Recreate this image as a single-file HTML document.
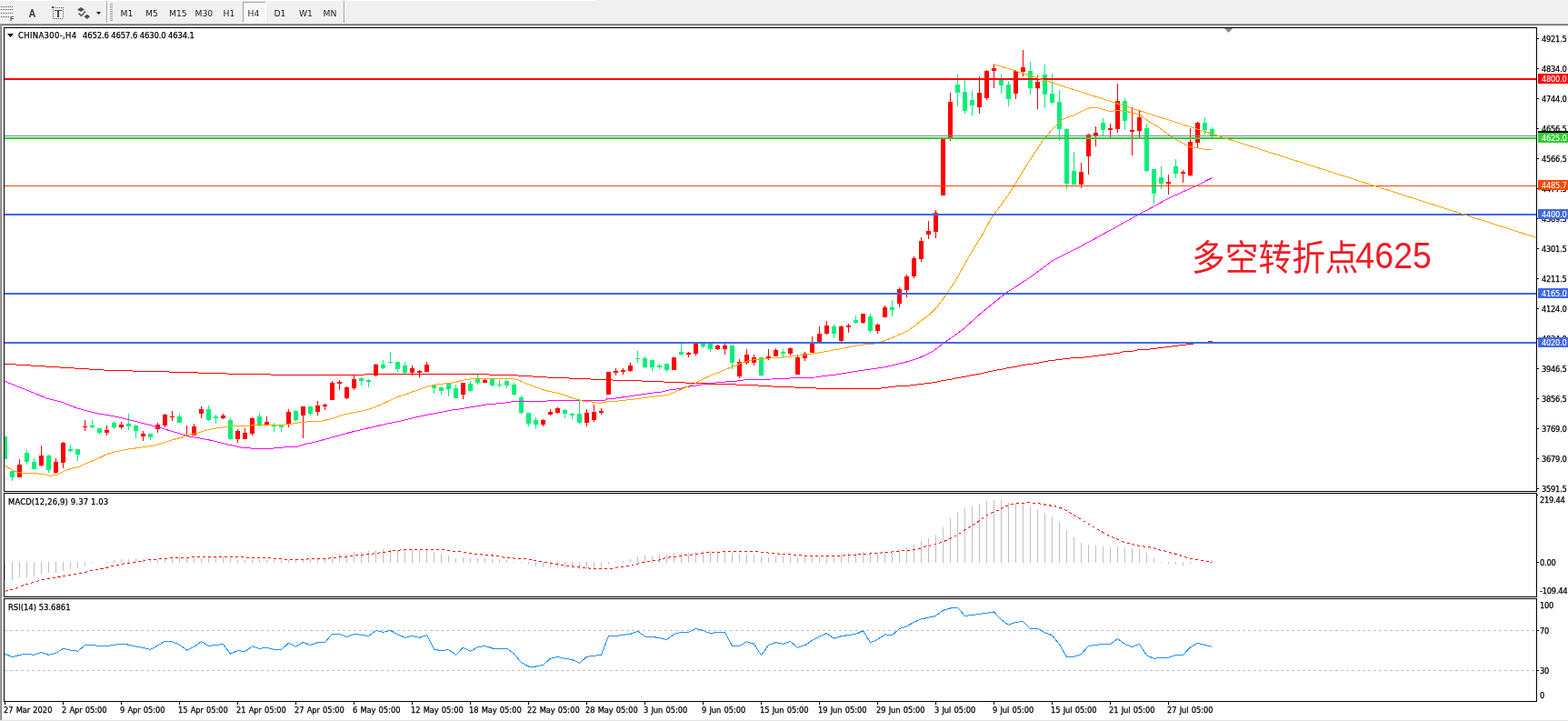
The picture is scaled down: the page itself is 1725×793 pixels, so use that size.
<!DOCTYPE html><html><head><meta charset="utf-8"><title>CHINA300 H4</title><style>
html,body{margin:0;padding:0;background:#f0f0f0;}
body{width:1725px;height:793px;overflow:hidden;position:relative;}
svg{position:absolute;left:0;top:0;display:block;}
.t{font-family:"DejaVu Sans Condensed","DejaVu Sans",sans-serif;font-size:9.2px;letter-spacing:-0.22px;fill:#000;stroke:#000;stroke-width:0.25px;}
.tt{font-family:"DejaVu Sans Condensed","DejaVu Sans",sans-serif;font-size:9.2px;word-spacing:0.5px;fill:#000;stroke:#000;stroke-width:0.25px;}
.tb{font-family:"DejaVu Sans Condensed","DejaVu Sans",sans-serif;font-size:9.4px;fill:#000;stroke:#000;stroke-width:0.25px;}
.tw{font-family:"DejaVu Sans Condensed","DejaVu Sans",sans-serif;font-size:9.2px;letter-spacing:-0.22px;fill:#fff;stroke:#fff;stroke-width:0.08px;}
.tf{font-family:"DejaVu Sans",sans-serif;font-size:9.2px;fill:#1a1a1a;}
.cn{font-family:"Liberation Sans","Noto Sans CJK SC",sans-serif;font-size:36px;fill:#ee1c25;}
.cn2{font-family:"Liberation Sans",sans-serif;font-size:39px;fill:#ee1c25;}
</style></head><body>
<svg width="1725" height="793" viewBox="0 0 1725 793">
<g shape-rendering="crispEdges">
<rect x="0" y="0" width="1725" height="26" fill="#f0f0f0"/>
<rect x="0" y="0" width="656" height="1" fill="#ffffff"/>
<rect x="0" y="26" width="1725" height="1" fill="#a0a0a0"/>
<rect x="0" y="27" width="1725" height="1" fill="#696969"/>
<rect x="117" y="1" width="1" height="24" fill="#a0a0a0"/>
<rect x="118" y="1" width="1" height="24" fill="#ffffff"/>
<rect x="378" y="1" width="1" height="24" fill="#a0a0a0"/>
<rect x="379" y="1" width="1" height="24" fill="#ffffff"/>
<rect x="121" y="4" width="3" height="1" fill="#a0a0a0"/>
<rect x="121" y="6" width="3" height="1" fill="#a0a0a0"/>
<rect x="121" y="8" width="3" height="1" fill="#a0a0a0"/>
<rect x="121" y="10" width="3" height="1" fill="#a0a0a0"/>
<rect x="121" y="12" width="3" height="1" fill="#a0a0a0"/>
<rect x="121" y="14" width="3" height="1" fill="#a0a0a0"/>
<rect x="121" y="16" width="3" height="1" fill="#a0a0a0"/>
<rect x="121" y="18" width="3" height="1" fill="#a0a0a0"/>
<rect x="121" y="20" width="3" height="1" fill="#a0a0a0"/>
<rect x="121" y="22" width="3" height="1" fill="#a0a0a0"/>
<rect x="267" y="2" width="26" height="23" fill="#f8f8f8" stroke="none"/>
<rect x="267" y="2" width="25" height="1" fill="#a0a0a0"/>
<rect x="267" y="2" width="1" height="22" fill="#a0a0a0"/>
<rect x="292" y="2" width="1" height="23" fill="#ffffff"/>
<rect x="267" y="24" width="26" height="1" fill="#ffffff"/>
<rect x="1" y="7" width="1" height="1" fill="#505050"/>
<rect x="3" y="7" width="1" height="1" fill="#505050"/>
<rect x="5" y="7" width="1" height="1" fill="#505050"/>
<rect x="7" y="7" width="1" height="1" fill="#505050"/>
<rect x="9" y="7" width="1" height="1" fill="#505050"/>
<rect x="11" y="7" width="1" height="1" fill="#505050"/>
<rect x="13" y="7" width="1" height="1" fill="#505050"/>
<rect x="1" y="10" width="1" height="1" fill="#505050"/>
<rect x="3" y="10" width="1" height="1" fill="#505050"/>
<rect x="5" y="10" width="1" height="1" fill="#505050"/>
<rect x="7" y="10" width="1" height="1" fill="#505050"/>
<rect x="9" y="10" width="1" height="1" fill="#505050"/>
<rect x="11" y="10" width="1" height="1" fill="#505050"/>
<rect x="13" y="10" width="1" height="1" fill="#505050"/>
<rect x="1" y="14" width="1" height="1" fill="#505050"/>
<rect x="3" y="14" width="1" height="1" fill="#505050"/>
<rect x="5" y="14" width="1" height="1" fill="#505050"/>
<rect x="7" y="14" width="1" height="1" fill="#505050"/>
<rect x="9" y="14" width="1" height="1" fill="#505050"/>
<rect x="11" y="14" width="1" height="1" fill="#505050"/>
<rect x="13" y="14" width="1" height="1" fill="#505050"/>
<rect x="1" y="18" width="1" height="1" fill="#505050"/>
<rect x="3" y="18" width="1" height="1" fill="#505050"/>
<rect x="5" y="18" width="1" height="1" fill="#505050"/>
<rect x="7" y="18" width="1" height="1" fill="#505050"/>
<rect x="9" y="18" width="1" height="1" fill="#505050"/>
<rect x="61" y="8" width="1" height="1" fill="#505050"/>
<rect x="63" y="8" width="1" height="1" fill="#505050"/>
<rect x="65" y="8" width="1" height="1" fill="#505050"/>
<rect x="67" y="8" width="1" height="1" fill="#505050"/>
<rect x="69" y="8" width="1" height="1" fill="#505050"/>
<rect x="58" y="20" width="1" height="1" fill="#505050"/>
<rect x="60" y="20" width="1" height="1" fill="#505050"/>
<rect x="62" y="20" width="1" height="1" fill="#505050"/>
<rect x="64" y="20" width="1" height="1" fill="#505050"/>
<rect x="66" y="20" width="1" height="1" fill="#505050"/>
<rect x="68" y="20" width="1" height="1" fill="#505050"/>
<rect x="58" y="10" width="1" height="1" fill="#505050"/>
<rect x="69" y="10" width="1" height="1" fill="#505050"/>
<rect x="58" y="12" width="1" height="1" fill="#505050"/>
<rect x="69" y="12" width="1" height="1" fill="#505050"/>
<rect x="58" y="14" width="1" height="1" fill="#505050"/>
<rect x="69" y="14" width="1" height="1" fill="#505050"/>
<rect x="58" y="16" width="1" height="1" fill="#505050"/>
<rect x="69" y="16" width="1" height="1" fill="#505050"/>
<rect x="58" y="18" width="1" height="1" fill="#505050"/>
<rect x="69" y="18" width="1" height="1" fill="#505050"/>
<rect x="57" y="7" width="2" height="2" fill="#505050"/><rect x="59" y="8" width="1" height="1" fill="#808080"/>
<rect x="60" y="11" width="8" height="1.3" fill="#505050"/>
<rect x="63.1" y="11" width="1.9" height="8" fill="#505050"/>
</g>
<text x="11" y="23" style="font-family:Liberation Sans;font-weight:bold;font-size:7px;fill:#505050">F</text>
<path d="M32.6 18.9 L35.5 10.2 L38.4 18.9 M33.7 16.3 L37.3 16.3" stroke="#4a4a4a" stroke-width="1.6" stroke-linejoin="bevel" fill="none"/>
<path d="M85 10.5 L89 8 L93 10.5 L89 13 Z" fill="#505050"/>
<path d="M92.5 18.3 L95.8 15.7 L99 18.3 L95.8 21 Z" fill="#505050"/>
<path d="M86.5 14.5 L89.5 17.5 L94 12.5" stroke="#505050" stroke-width="1.5" fill="none"/>
<path d="M106 13 L111 13 L108.5 16 Z" fill="#000"/>
<text class="tf" x="132.5" y="18">M1</text>
<text class="tf" x="160" y="18">M5</text>
<text class="tf" x="186" y="18">M15</text>
<text class="tf" x="214.5" y="18">M30</text>
<text class="tf" x="245.5" y="18">H1</text>
<text class="tf" x="272.5" y="18">H4</text>
<text class="tf" x="301.5" y="18">D1</text>
<text class="tf" x="329" y="18">W1</text>
<text class="tf" x="355.5" y="18">MN</text>
<g shape-rendering="crispEdges">
<rect x="0" y="28" width="1725" height="765" fill="#ffffff"/>
<rect x="0" y="26" width="1" height="767" fill="#a0a0a0"/>
<rect x="1" y="27" width="1" height="766" fill="#808080"/>
<rect x="0" y="792" width="1725" height="1" fill="#e3e3e3"/>
<rect x="4" y="30" width="1687" height="1" fill="#000"/>
<rect x="4" y="540" width="1687" height="1" fill="#000"/>
<rect x="4" y="30" width="1" height="511" fill="#000"/>
<rect x="1690" y="30" width="1" height="511" fill="#000"/>
<rect x="4" y="542" width="1687" height="1" fill="#000"/>
<rect x="4" y="656" width="1687" height="1" fill="#000"/>
<rect x="4" y="542" width="1" height="115" fill="#000"/>
<rect x="1690" y="542" width="1" height="115" fill="#000"/>
<rect x="4" y="658" width="1687" height="1" fill="#000"/>
<rect x="4" y="771" width="1687" height="1" fill="#000"/>
<rect x="4" y="658" width="1" height="114" fill="#000"/>
<rect x="1690" y="658" width="1" height="114" fill="#000"/>
</g>
<defs><clipPath id="cm"><rect x="5" y="31" width="1685" height="509"/></clipPath>
<clipPath id="cd"><rect x="5" y="543" width="1685" height="113"/></clipPath>
<clipPath id="cr"><rect x="5" y="659" width="1685" height="112"/></clipPath></defs>
<g clip-path="url(#cm)">
<g shape-rendering="crispEdges">
<rect x="5" y="480" width="1" height="25" fill="#00f078"/>
<rect x="3" y="480" width="5" height="25" fill="#00f078"/>
<rect x="13" y="518" width="1" height="11" fill="#00f078"/>
<rect x="11" y="518" width="5" height="7" fill="#00f078"/>
<rect x="21" y="505" width="1" height="20" fill="#ff0000"/>
<rect x="19" y="511" width="5" height="14" fill="#ff0000"/>
<rect x="29" y="495" width="1" height="16" fill="#00f078"/>
<rect x="27" y="498" width="5" height="10" fill="#00f078"/>
<rect x="37" y="504" width="1" height="12" fill="#00f078"/>
<rect x="35" y="508" width="5" height="8" fill="#00f078"/>
<rect x="45" y="490" width="1" height="23" fill="#ff0000"/>
<rect x="43" y="501" width="5" height="11" fill="#ff0000"/>
<rect x="53" y="500" width="1" height="20" fill="#00f078"/>
<rect x="51" y="501" width="5" height="16" fill="#00f078"/>
<rect x="61" y="504" width="1" height="17" fill="#ff0000"/>
<rect x="59" y="508" width="5" height="12" fill="#ff0000"/>
<rect x="69" y="486" width="1" height="29" fill="#ff0000"/>
<rect x="67" y="487" width="5" height="22" fill="#ff0000"/>
<rect x="77" y="489" width="1" height="9" fill="#00f078"/>
<rect x="75" y="494" width="5" height="2" fill="#00f078"/>
<rect x="85" y="494" width="1" height="13" fill="#00f078"/>
<rect x="83" y="494" width="5" height="6" fill="#00f078"/>
<rect x="93" y="462" width="1" height="12" fill="#ff0000"/>
<rect x="91" y="469" width="5" height="1" fill="#ff0000"/>
<rect x="101" y="462" width="1" height="9" fill="#00f078"/>
<rect x="99" y="468" width="5" height="2" fill="#00f078"/>
<rect x="109" y="471" width="1" height="7" fill="#00f078"/>
<rect x="107" y="471" width="5" height="5" fill="#00f078"/>
<rect x="117" y="468" width="1" height="11" fill="#ff0000"/>
<rect x="115" y="473" width="5" height="3" fill="#ff0000"/>
<rect x="125" y="463" width="1" height="9" fill="#00f078"/>
<rect x="123" y="465" width="5" height="5" fill="#00f078"/>
<rect x="133" y="464" width="1" height="8" fill="#ff0000"/>
<rect x="131" y="467" width="5" height="3" fill="#ff0000"/>
<rect x="141" y="455" width="1" height="18" fill="#00f078"/>
<rect x="139" y="466" width="5" height="3" fill="#00f078"/>
<rect x="149" y="467" width="1" height="15" fill="#00f078"/>
<rect x="147" y="468" width="5" height="6" fill="#00f078"/>
<rect x="157" y="474" width="1" height="11" fill="#ff0000"/>
<rect x="155" y="477" width="5" height="3" fill="#ff0000"/>
<rect x="165" y="477" width="1" height="7" fill="#00f078"/>
<rect x="163" y="477" width="5" height="4" fill="#00f078"/>
<rect x="173" y="465" width="1" height="11" fill="#ff0000"/>
<rect x="171" y="467" width="5" height="5" fill="#ff0000"/>
<rect x="181" y="455" width="1" height="15" fill="#ff0000"/>
<rect x="179" y="456" width="5" height="12" fill="#ff0000"/>
<rect x="189" y="452" width="1" height="11" fill="#ff0000"/>
<rect x="187" y="458" width="5" height="1" fill="#ff0000"/>
<rect x="197" y="455" width="1" height="10" fill="#00f078"/>
<rect x="195" y="458" width="5" height="7" fill="#00f078"/>
<rect x="205" y="468" width="1" height="12" fill="#ff0000"/>
<rect x="203" y="478" width="5" height="2" fill="#ff0000"/>
<rect x="213" y="466" width="1" height="13" fill="#ff0000"/>
<rect x="211" y="469" width="5" height="10" fill="#ff0000"/>
<rect x="221" y="447" width="1" height="13" fill="#ff0000"/>
<rect x="219" y="450" width="5" height="5" fill="#ff0000"/>
<rect x="229" y="446" width="1" height="17" fill="#00f078"/>
<rect x="227" y="450" width="5" height="12" fill="#00f078"/>
<rect x="237" y="456" width="1" height="10" fill="#00f078"/>
<rect x="235" y="458" width="5" height="2" fill="#00f078"/>
<rect x="245" y="455" width="1" height="6" fill="#ff0000"/>
<rect x="243" y="457" width="5" height="3" fill="#ff0000"/>
<rect x="253" y="460" width="1" height="24" fill="#00f078"/>
<rect x="251" y="462" width="5" height="21" fill="#00f078"/>
<rect x="261" y="472" width="1" height="15" fill="#ff0000"/>
<rect x="259" y="474" width="5" height="9" fill="#ff0000"/>
<rect x="269" y="471" width="1" height="12" fill="#ff0000"/>
<rect x="267" y="476" width="5" height="7" fill="#ff0000"/>
<rect x="277" y="459" width="1" height="20" fill="#ff0000"/>
<rect x="275" y="460" width="5" height="17" fill="#ff0000"/>
<rect x="285" y="454" width="1" height="15" fill="#00f078"/>
<rect x="283" y="458" width="5" height="9" fill="#00f078"/>
<rect x="293" y="458" width="1" height="9" fill="#ff0000"/>
<rect x="291" y="464" width="5" height="3" fill="#ff0000"/>
<rect x="301" y="465" width="1" height="10" fill="#00f078"/>
<rect x="299" y="468" width="5" height="1" fill="#00f078"/>
<rect x="309" y="468" width="1" height="7" fill="#00f078"/>
<rect x="307" y="468" width="5" height="2" fill="#00f078"/>
<rect x="317" y="450" width="1" height="20" fill="#ff0000"/>
<rect x="315" y="453" width="5" height="13" fill="#ff0000"/>
<rect x="325" y="451" width="1" height="13" fill="#00f078"/>
<rect x="323" y="452" width="5" height="10" fill="#00f078"/>
<rect x="333" y="447" width="1" height="35" fill="#ff0000"/>
<rect x="331" y="447" width="5" height="10" fill="#ff0000"/>
<rect x="341" y="447" width="1" height="10" fill="#00f078"/>
<rect x="339" y="447" width="5" height="8" fill="#00f078"/>
<rect x="349" y="441" width="1" height="16" fill="#ff0000"/>
<rect x="347" y="446" width="5" height="7" fill="#ff0000"/>
<rect x="357" y="444" width="1" height="7" fill="#ff0000"/>
<rect x="355" y="445" width="5" height="2" fill="#ff0000"/>
<rect x="365" y="419" width="1" height="21" fill="#ff0000"/>
<rect x="363" y="421" width="5" height="19" fill="#ff0000"/>
<rect x="373" y="418" width="1" height="11" fill="#ff0000"/>
<rect x="371" y="420" width="5" height="2" fill="#ff0000"/>
<rect x="381" y="425" width="1" height="14" fill="#ff0000"/>
<rect x="379" y="426" width="5" height="12" fill="#ff0000"/>
<rect x="389" y="413" width="1" height="16" fill="#ff0000"/>
<rect x="387" y="417" width="5" height="10" fill="#ff0000"/>
<rect x="397" y="415" width="1" height="9" fill="#00f078"/>
<rect x="395" y="416" width="5" height="3" fill="#00f078"/>
<rect x="405" y="417" width="1" height="9" fill="#00f078"/>
<rect x="403" y="418" width="5" height="2" fill="#00f078"/>
<rect x="413" y="400" width="1" height="14" fill="#ff0000"/>
<rect x="411" y="401" width="5" height="12" fill="#ff0000"/>
<rect x="421" y="396" width="1" height="10" fill="#00f078"/>
<rect x="419" y="401" width="5" height="4" fill="#00f078"/>
<rect x="429" y="387" width="1" height="13" fill="#00f078"/>
<rect x="427" y="398" width="5" height="1" fill="#00f078"/>
<rect x="437" y="398" width="1" height="11" fill="#00f078"/>
<rect x="435" y="398" width="5" height="8" fill="#00f078"/>
<rect x="445" y="398" width="1" height="13" fill="#00f078"/>
<rect x="443" y="402" width="5" height="8" fill="#00f078"/>
<rect x="453" y="402" width="1" height="11" fill="#ff0000"/>
<rect x="451" y="405" width="5" height="5" fill="#ff0000"/>
<rect x="461" y="407" width="1" height="8" fill="#ff0000"/>
<rect x="459" y="408" width="5" height="2" fill="#ff0000"/>
<rect x="469" y="398" width="1" height="11" fill="#ff0000"/>
<rect x="467" y="401" width="5" height="8" fill="#ff0000"/>
<rect x="477" y="423" width="1" height="10" fill="#00f078"/>
<rect x="475" y="423" width="5" height="4" fill="#00f078"/>
<rect x="485" y="426" width="1" height="8" fill="#00f078"/>
<rect x="483" y="426" width="5" height="4" fill="#00f078"/>
<rect x="493" y="421" width="1" height="15" fill="#00f078"/>
<rect x="491" y="422" width="5" height="6" fill="#00f078"/>
<rect x="501" y="423" width="1" height="15" fill="#00f078"/>
<rect x="499" y="427" width="5" height="11" fill="#00f078"/>
<rect x="509" y="421" width="1" height="18" fill="#ff0000"/>
<rect x="507" y="421" width="5" height="13" fill="#ff0000"/>
<rect x="517" y="419" width="1" height="12" fill="#00f078"/>
<rect x="515" y="422" width="5" height="8" fill="#00f078"/>
<rect x="525" y="412" width="1" height="11" fill="#00f078"/>
<rect x="523" y="417" width="5" height="4" fill="#00f078"/>
<rect x="533" y="417" width="1" height="4" fill="#ff0000"/>
<rect x="531" y="418" width="5" height="3" fill="#ff0000"/>
<rect x="541" y="417" width="1" height="8" fill="#00f078"/>
<rect x="539" y="417" width="5" height="7" fill="#00f078"/>
<rect x="549" y="418" width="1" height="8" fill="#00f078"/>
<rect x="547" y="423" width="5" height="1" fill="#00f078"/>
<rect x="557" y="418" width="1" height="9" fill="#00f078"/>
<rect x="555" y="419" width="5" height="5" fill="#00f078"/>
<rect x="565" y="421" width="1" height="14" fill="#00f078"/>
<rect x="563" y="423" width="5" height="11" fill="#00f078"/>
<rect x="573" y="435" width="1" height="21" fill="#00f078"/>
<rect x="571" y="437" width="5" height="17" fill="#00f078"/>
<rect x="581" y="454" width="1" height="15" fill="#00f078"/>
<rect x="579" y="454" width="5" height="12" fill="#00f078"/>
<rect x="589" y="459" width="1" height="13" fill="#00f078"/>
<rect x="587" y="462" width="5" height="5" fill="#00f078"/>
<rect x="597" y="461" width="1" height="8" fill="#ff0000"/>
<rect x="595" y="462" width="5" height="5" fill="#ff0000"/>
<rect x="605" y="450" width="1" height="7" fill="#ff0000"/>
<rect x="603" y="453" width="5" height="3" fill="#ff0000"/>
<rect x="613" y="448" width="1" height="7" fill="#ff0000"/>
<rect x="611" y="449" width="5" height="5" fill="#ff0000"/>
<rect x="621" y="450" width="1" height="10" fill="#00f078"/>
<rect x="619" y="451" width="5" height="4" fill="#00f078"/>
<rect x="629" y="454" width="1" height="7" fill="#00f078"/>
<rect x="627" y="455" width="5" height="2" fill="#00f078"/>
<rect x="637" y="439" width="1" height="27" fill="#00f078"/>
<rect x="635" y="455" width="5" height="10" fill="#00f078"/>
<rect x="645" y="450" width="1" height="19" fill="#ff0000"/>
<rect x="643" y="454" width="5" height="11" fill="#ff0000"/>
<rect x="653" y="445" width="1" height="19" fill="#ff0000"/>
<rect x="651" y="453" width="5" height="9" fill="#ff0000"/>
<rect x="661" y="449" width="1" height="7" fill="#ff0000"/>
<rect x="659" y="452" width="5" height="2" fill="#ff0000"/>
<rect x="669" y="409" width="1" height="25" fill="#ff0000"/>
<rect x="667" y="409" width="5" height="25" fill="#ff0000"/>
<rect x="677" y="405" width="1" height="8" fill="#ff0000"/>
<rect x="675" y="408" width="5" height="2" fill="#ff0000"/>
<rect x="685" y="405" width="1" height="7" fill="#ff0000"/>
<rect x="683" y="407" width="5" height="2" fill="#ff0000"/>
<rect x="693" y="399" width="1" height="10" fill="#ff0000"/>
<rect x="691" y="402" width="5" height="6" fill="#ff0000"/>
<rect x="701" y="386" width="1" height="13" fill="#00f078"/>
<rect x="699" y="394" width="5" height="1" fill="#00f078"/>
<rect x="709" y="392" width="1" height="13" fill="#00f078"/>
<rect x="707" y="394" width="5" height="10" fill="#00f078"/>
<rect x="717" y="396" width="1" height="12" fill="#00f078"/>
<rect x="715" y="396" width="5" height="8" fill="#00f078"/>
<rect x="725" y="400" width="1" height="6" fill="#00f078"/>
<rect x="723" y="402" width="5" height="2" fill="#00f078"/>
<rect x="733" y="400" width="1" height="9" fill="#00f078"/>
<rect x="731" y="400" width="5" height="7" fill="#00f078"/>
<rect x="741" y="393" width="1" height="14" fill="#ff0000"/>
<rect x="739" y="393" width="5" height="14" fill="#ff0000"/>
<rect x="749" y="377" width="1" height="14" fill="#00f078"/>
<rect x="747" y="387" width="5" height="3" fill="#00f078"/>
<rect x="757" y="387" width="1" height="6" fill="#ff0000"/>
<rect x="755" y="388" width="5" height="2" fill="#ff0000"/>
<rect x="765" y="376" width="1" height="15" fill="#ff0000"/>
<rect x="763" y="378" width="5" height="11" fill="#ff0000"/>
<rect x="773" y="376" width="1" height="7" fill="#00f078"/>
<rect x="771" y="378" width="5" height="3" fill="#00f078"/>
<rect x="781" y="377" width="1" height="10" fill="#00f078"/>
<rect x="779" y="378" width="5" height="6" fill="#00f078"/>
<rect x="789" y="379" width="1" height="6" fill="#ff0000"/>
<rect x="787" y="380" width="5" height="4" fill="#ff0000"/>
<rect x="797" y="378" width="1" height="12" fill="#ff0000"/>
<rect x="795" y="380" width="5" height="4" fill="#ff0000"/>
<rect x="805" y="380" width="1" height="26" fill="#00f078"/>
<rect x="803" y="380" width="5" height="19" fill="#00f078"/>
<rect x="813" y="395" width="1" height="21" fill="#ff0000"/>
<rect x="811" y="398" width="5" height="16" fill="#ff0000"/>
<rect x="821" y="384" width="1" height="17" fill="#ff0000"/>
<rect x="819" y="390" width="5" height="9" fill="#ff0000"/>
<rect x="829" y="390" width="1" height="12" fill="#ff0000"/>
<rect x="827" y="393" width="5" height="6" fill="#ff0000"/>
<rect x="837" y="393" width="1" height="21" fill="#00f078"/>
<rect x="835" y="393" width="5" height="20" fill="#00f078"/>
<rect x="845" y="384" width="1" height="12" fill="#ff0000"/>
<rect x="843" y="392" width="5" height="2" fill="#ff0000"/>
<rect x="853" y="383" width="1" height="9" fill="#ff0000"/>
<rect x="851" y="385" width="5" height="7" fill="#ff0000"/>
<rect x="861" y="384" width="1" height="10" fill="#00f078"/>
<rect x="859" y="387" width="5" height="2" fill="#00f078"/>
<rect x="869" y="382" width="1" height="9" fill="#ff0000"/>
<rect x="867" y="383" width="5" height="6" fill="#ff0000"/>
<rect x="877" y="390" width="1" height="22" fill="#ff0000"/>
<rect x="875" y="393" width="5" height="19" fill="#ff0000"/>
<rect x="885" y="387" width="1" height="10" fill="#ff0000"/>
<rect x="883" y="389" width="5" height="5" fill="#ff0000"/>
<rect x="893" y="370" width="1" height="18" fill="#ff0000"/>
<rect x="891" y="378" width="5" height="10" fill="#ff0000"/>
<rect x="901" y="359" width="1" height="17" fill="#ff0000"/>
<rect x="899" y="367" width="5" height="9" fill="#ff0000"/>
<rect x="909" y="353" width="1" height="15" fill="#ff0000"/>
<rect x="907" y="358" width="5" height="9" fill="#ff0000"/>
<rect x="917" y="357" width="1" height="15" fill="#00f078"/>
<rect x="915" y="359" width="5" height="8" fill="#00f078"/>
<rect x="925" y="358" width="1" height="18" fill="#ff0000"/>
<rect x="923" y="359" width="5" height="16" fill="#ff0000"/>
<rect x="933" y="356" width="1" height="10" fill="#ff0000"/>
<rect x="931" y="358" width="5" height="2" fill="#ff0000"/>
<rect x="941" y="347" width="1" height="9" fill="#00f078"/>
<rect x="939" y="352" width="5" height="3" fill="#00f078"/>
<rect x="949" y="345" width="1" height="11" fill="#ff0000"/>
<rect x="947" y="345" width="5" height="10" fill="#ff0000"/>
<rect x="957" y="345" width="1" height="21" fill="#00f078"/>
<rect x="955" y="348" width="5" height="16" fill="#00f078"/>
<rect x="965" y="356" width="1" height="11" fill="#ff0000"/>
<rect x="963" y="357" width="5" height="7" fill="#ff0000"/>
<rect x="973" y="336" width="1" height="13" fill="#ff0000"/>
<rect x="971" y="338" width="5" height="11" fill="#ff0000"/>
<rect x="981" y="330" width="1" height="18" fill="#00f078"/>
<rect x="979" y="338" width="5" height="3" fill="#00f078"/>
<rect x="989" y="316" width="1" height="22" fill="#ff0000"/>
<rect x="987" y="318" width="5" height="16" fill="#ff0000"/>
<rect x="997" y="302" width="1" height="25" fill="#ff0000"/>
<rect x="995" y="304" width="5" height="15" fill="#ff0000"/>
<rect x="1005" y="282" width="1" height="24" fill="#ff0000"/>
<rect x="1003" y="284" width="5" height="20" fill="#ff0000"/>
<rect x="1013" y="261" width="1" height="27" fill="#ff0000"/>
<rect x="1011" y="265" width="5" height="20" fill="#ff0000"/>
<rect x="1021" y="243" width="1" height="20" fill="#ff0000"/>
<rect x="1019" y="254" width="5" height="4" fill="#ff0000"/>
<rect x="1029" y="231" width="1" height="31" fill="#ff0000"/>
<rect x="1027" y="234" width="5" height="21" fill="#ff0000"/>
<rect x="1037" y="151" width="1" height="64" fill="#ff0000"/>
<rect x="1035" y="151" width="5" height="64" fill="#ff0000"/>
<rect x="1045" y="102" width="1" height="53" fill="#ff0000"/>
<rect x="1043" y="112" width="5" height="40" fill="#ff0000"/>
<rect x="1053" y="81" width="1" height="36" fill="#00f078"/>
<rect x="1051" y="93" width="5" height="9" fill="#00f078"/>
<rect x="1061" y="88" width="1" height="37" fill="#00f078"/>
<rect x="1059" y="101" width="5" height="21" fill="#00f078"/>
<rect x="1069" y="100" width="1" height="27" fill="#00f078"/>
<rect x="1067" y="110" width="5" height="6" fill="#00f078"/>
<rect x="1077" y="84" width="1" height="41" fill="#ff0000"/>
<rect x="1075" y="102" width="5" height="16" fill="#ff0000"/>
<rect x="1085" y="77" width="1" height="33" fill="#ff0000"/>
<rect x="1083" y="78" width="5" height="30" fill="#ff0000"/>
<rect x="1093" y="70" width="1" height="27" fill="#ff0000"/>
<rect x="1091" y="75" width="5" height="3" fill="#ff0000"/>
<rect x="1101" y="81" width="1" height="22" fill="#00f078"/>
<rect x="1099" y="88" width="5" height="6" fill="#00f078"/>
<rect x="1109" y="89" width="1" height="28" fill="#00f078"/>
<rect x="1107" y="93" width="5" height="16" fill="#00f078"/>
<rect x="1117" y="77" width="1" height="32" fill="#ff0000"/>
<rect x="1115" y="78" width="5" height="25" fill="#ff0000"/>
<rect x="1125" y="55" width="1" height="29" fill="#ff0000"/>
<rect x="1123" y="74" width="5" height="5" fill="#ff0000"/>
<rect x="1133" y="68" width="1" height="36" fill="#00f078"/>
<rect x="1131" y="78" width="5" height="19" fill="#00f078"/>
<rect x="1141" y="83" width="1" height="37" fill="#ff0000"/>
<rect x="1139" y="90" width="5" height="7" fill="#ff0000"/>
<rect x="1149" y="71" width="1" height="48" fill="#00f078"/>
<rect x="1147" y="82" width="5" height="22" fill="#00f078"/>
<rect x="1157" y="81" width="1" height="33" fill="#00f078"/>
<rect x="1155" y="103" width="5" height="10" fill="#00f078"/>
<rect x="1165" y="99" width="1" height="56" fill="#00f078"/>
<rect x="1163" y="112" width="5" height="30" fill="#00f078"/>
<rect x="1173" y="141" width="1" height="67" fill="#00f078"/>
<rect x="1171" y="142" width="5" height="60" fill="#00f078"/>
<rect x="1181" y="167" width="1" height="36" fill="#00f078"/>
<rect x="1179" y="188" width="5" height="15" fill="#00f078"/>
<rect x="1189" y="179" width="1" height="28" fill="#ff0000"/>
<rect x="1187" y="189" width="5" height="14" fill="#ff0000"/>
<rect x="1197" y="147" width="1" height="45" fill="#ff0000"/>
<rect x="1195" y="148" width="5" height="24" fill="#ff0000"/>
<rect x="1205" y="139" width="1" height="22" fill="#ff0000"/>
<rect x="1203" y="146" width="5" height="3" fill="#ff0000"/>
<rect x="1213" y="130" width="1" height="20" fill="#00f078"/>
<rect x="1211" y="135" width="5" height="8" fill="#00f078"/>
<rect x="1221" y="136" width="1" height="15" fill="#ff0000"/>
<rect x="1219" y="141" width="5" height="2" fill="#ff0000"/>
<rect x="1229" y="92" width="1" height="54" fill="#ff0000"/>
<rect x="1227" y="111" width="5" height="31" fill="#ff0000"/>
<rect x="1237" y="108" width="1" height="35" fill="#00f078"/>
<rect x="1235" y="111" width="5" height="22" fill="#00f078"/>
<rect x="1245" y="118" width="1" height="53" fill="#ff0000"/>
<rect x="1243" y="143" width="5" height="2" fill="#ff0000"/>
<rect x="1253" y="122" width="1" height="29" fill="#ff0000"/>
<rect x="1251" y="129" width="5" height="15" fill="#ff0000"/>
<rect x="1261" y="136" width="1" height="53" fill="#00f078"/>
<rect x="1259" y="141" width="5" height="47" fill="#00f078"/>
<rect x="1269" y="186" width="1" height="38" fill="#00f078"/>
<rect x="1267" y="186" width="5" height="27" fill="#00f078"/>
<rect x="1277" y="183" width="1" height="25" fill="#00f078"/>
<rect x="1275" y="195" width="5" height="7" fill="#00f078"/>
<rect x="1285" y="192" width="1" height="22" fill="#ff0000"/>
<rect x="1283" y="200" width="5" height="2" fill="#ff0000"/>
<rect x="1293" y="175" width="1" height="21" fill="#00f078"/>
<rect x="1291" y="183" width="5" height="8" fill="#00f078"/>
<rect x="1301" y="187" width="1" height="14" fill="#ff0000"/>
<rect x="1299" y="189" width="5" height="2" fill="#ff0000"/>
<rect x="1309" y="141" width="1" height="53" fill="#ff0000"/>
<rect x="1307" y="156" width="5" height="37" fill="#ff0000"/>
<rect x="1317" y="134" width="1" height="28" fill="#ff0000"/>
<rect x="1315" y="135" width="5" height="22" fill="#ff0000"/>
<rect x="1325" y="129" width="1" height="19" fill="#00f078"/>
<rect x="1323" y="135" width="5" height="8" fill="#00f078"/>
<rect x="1333" y="140" width="1" height="11" fill="#00f078"/>
<rect x="1331" y="142" width="5" height="8" fill="#00f078"/>
</g>
<rect x="5" y="400" width="13" height="1" fill="#ff0000" shape-rendering="crispEdges"/>
<rect x="18" y="401" width="16" height="1" fill="#ff0000" shape-rendering="crispEdges"/>
<rect x="34" y="402" width="16" height="1" fill="#ff0000" shape-rendering="crispEdges"/>
<rect x="50" y="403" width="16" height="1" fill="#ff0000" shape-rendering="crispEdges"/>
<rect x="66" y="404" width="16" height="1" fill="#ff0000" shape-rendering="crispEdges"/>
<rect x="82" y="405" width="16" height="1" fill="#ff0000" shape-rendering="crispEdges"/>
<rect x="98" y="406" width="16" height="1" fill="#ff0000" shape-rendering="crispEdges"/>
<rect x="114" y="407" width="32" height="1" fill="#ff0000" shape-rendering="crispEdges"/>
<rect x="146" y="408" width="40" height="1" fill="#ff0000" shape-rendering="crispEdges"/>
<rect x="186" y="409" width="32" height="1" fill="#ff0000" shape-rendering="crispEdges"/>
<rect x="218" y="410" width="32" height="1" fill="#ff0000" shape-rendering="crispEdges"/>
<rect x="250" y="411" width="48" height="1" fill="#ff0000" shape-rendering="crispEdges"/>
<rect x="298" y="412" width="103" height="1" fill="#ff0000" shape-rendering="crispEdges"/>
<rect x="401" y="411" width="137" height="1" fill="#ff0000" shape-rendering="crispEdges"/>
<rect x="538" y="412" width="32" height="1" fill="#ff0000" shape-rendering="crispEdges"/>
<rect x="570" y="413" width="16" height="1" fill="#ff0000" shape-rendering="crispEdges"/>
<rect x="586" y="414" width="16" height="1" fill="#ff0000" shape-rendering="crispEdges"/>
<rect x="602" y="415" width="24" height="1" fill="#ff0000" shape-rendering="crispEdges"/>
<rect x="626" y="416" width="24" height="1" fill="#ff0000" shape-rendering="crispEdges"/>
<rect x="650" y="417" width="24" height="1" fill="#ff0000" shape-rendering="crispEdges"/>
<rect x="674" y="418" width="32" height="1" fill="#ff0000" shape-rendering="crispEdges"/>
<rect x="706" y="419" width="24" height="1" fill="#ff0000" shape-rendering="crispEdges"/>
<rect x="730" y="420" width="24" height="1" fill="#ff0000" shape-rendering="crispEdges"/>
<rect x="754" y="421" width="24" height="1" fill="#ff0000" shape-rendering="crispEdges"/>
<rect x="778" y="422" width="32" height="1" fill="#ff0000" shape-rendering="crispEdges"/>
<rect x="810" y="423" width="24" height="1" fill="#ff0000" shape-rendering="crispEdges"/>
<rect x="834" y="424" width="16" height="1" fill="#ff0000" shape-rendering="crispEdges"/>
<rect x="850" y="425" width="24" height="1" fill="#ff0000" shape-rendering="crispEdges"/>
<rect x="874" y="426" width="24" height="1" fill="#ff0000" shape-rendering="crispEdges"/>
<rect x="898" y="427" width="71" height="1" fill="#ff0000" shape-rendering="crispEdges"/>
<rect x="969" y="426" width="8" height="1" fill="#ff0000" shape-rendering="crispEdges"/>
<rect x="977" y="425" width="8" height="1" fill="#ff0000" shape-rendering="crispEdges"/>
<rect x="985" y="424" width="16" height="1" fill="#ff0000" shape-rendering="crispEdges"/>
<rect x="1001" y="423" width="8" height="1" fill="#ff0000" shape-rendering="crispEdges"/>
<rect x="1009" y="422" width="8" height="1" fill="#ff0000" shape-rendering="crispEdges"/>
<rect x="1017" y="421" width="8" height="1" fill="#ff0000" shape-rendering="crispEdges"/>
<rect x="1025" y="420" width="6" height="1" fill="#ff0000" shape-rendering="crispEdges"/>
<rect x="1031" y="419" width="4" height="1" fill="#ff0000" shape-rendering="crispEdges"/>
<rect x="1035" y="418" width="6" height="1" fill="#ff0000" shape-rendering="crispEdges"/>
<rect x="1041" y="417" width="6" height="1" fill="#ff0000" shape-rendering="crispEdges"/>
<rect x="1047" y="416" width="4" height="1" fill="#ff0000" shape-rendering="crispEdges"/>
<rect x="1051" y="415" width="6" height="1" fill="#ff0000" shape-rendering="crispEdges"/>
<rect x="1057" y="414" width="6" height="1" fill="#ff0000" shape-rendering="crispEdges"/>
<rect x="1063" y="413" width="4" height="1" fill="#ff0000" shape-rendering="crispEdges"/>
<rect x="1067" y="412" width="6" height="1" fill="#ff0000" shape-rendering="crispEdges"/>
<rect x="1073" y="411" width="6" height="1" fill="#ff0000" shape-rendering="crispEdges"/>
<rect x="1079" y="410" width="4" height="1" fill="#ff0000" shape-rendering="crispEdges"/>
<rect x="1083" y="409" width="4" height="1" fill="#ff0000" shape-rendering="crispEdges"/>
<rect x="1087" y="408" width="5" height="1" fill="#ff0000" shape-rendering="crispEdges"/>
<rect x="1092" y="407" width="5" height="1" fill="#ff0000" shape-rendering="crispEdges"/>
<rect x="1097" y="406" width="6" height="1" fill="#ff0000" shape-rendering="crispEdges"/>
<rect x="1103" y="405" width="4" height="1" fill="#ff0000" shape-rendering="crispEdges"/>
<rect x="1107" y="404" width="6" height="1" fill="#ff0000" shape-rendering="crispEdges"/>
<rect x="1113" y="403" width="6" height="1" fill="#ff0000" shape-rendering="crispEdges"/>
<rect x="1119" y="402" width="4" height="1" fill="#ff0000" shape-rendering="crispEdges"/>
<rect x="1123" y="401" width="6" height="1" fill="#ff0000" shape-rendering="crispEdges"/>
<rect x="1129" y="400" width="8" height="1" fill="#ff0000" shape-rendering="crispEdges"/>
<rect x="1137" y="399" width="6" height="1" fill="#ff0000" shape-rendering="crispEdges"/>
<rect x="1143" y="398" width="5" height="1" fill="#ff0000" shape-rendering="crispEdges"/>
<rect x="1148" y="397" width="5" height="1" fill="#ff0000" shape-rendering="crispEdges"/>
<rect x="1153" y="396" width="8" height="1" fill="#ff0000" shape-rendering="crispEdges"/>
<rect x="1161" y="395" width="8" height="1" fill="#ff0000" shape-rendering="crispEdges"/>
<rect x="1169" y="394" width="8" height="1" fill="#ff0000" shape-rendering="crispEdges"/>
<rect x="1177" y="393" width="16" height="1" fill="#ff0000" shape-rendering="crispEdges"/>
<rect x="1193" y="392" width="8" height="1" fill="#ff0000" shape-rendering="crispEdges"/>
<rect x="1201" y="391" width="8" height="1" fill="#ff0000" shape-rendering="crispEdges"/>
<rect x="1209" y="390" width="8" height="1" fill="#ff0000" shape-rendering="crispEdges"/>
<rect x="1217" y="389" width="8" height="1" fill="#ff0000" shape-rendering="crispEdges"/>
<rect x="1225" y="388" width="7" height="1" fill="#ff0000" shape-rendering="crispEdges"/>
<rect x="1232" y="387" width="3" height="1" fill="#ff0000" shape-rendering="crispEdges"/>
<rect x="1235" y="386" width="12" height="1" fill="#ff0000" shape-rendering="crispEdges"/>
<rect x="1247" y="385" width="4" height="1" fill="#ff0000" shape-rendering="crispEdges"/>
<rect x="1251" y="384" width="14" height="1" fill="#ff0000" shape-rendering="crispEdges"/>
<rect x="1265" y="383" width="8" height="1" fill="#ff0000" shape-rendering="crispEdges"/>
<rect x="1273" y="382" width="8" height="1" fill="#ff0000" shape-rendering="crispEdges"/>
<rect x="1281" y="381" width="8" height="1" fill="#ff0000" shape-rendering="crispEdges"/>
<rect x="1289" y="380" width="8" height="1" fill="#ff0000" shape-rendering="crispEdges"/>
<rect x="1297" y="379" width="8" height="1" fill="#ff0000" shape-rendering="crispEdges"/>
<rect x="1305" y="378" width="8" height="1" fill="#ff0000" shape-rendering="crispEdges"/>
<rect x="1313" y="377" width="8" height="1" fill="#ff0000" shape-rendering="crispEdges"/>
<rect x="1321" y="376" width="8" height="1" fill="#ff0000" shape-rendering="crispEdges"/>
<rect x="1329" y="375" width="5" height="1" fill="#ff0000" shape-rendering="crispEdges"/>
<polyline points="5.4,419.4 20.2,425.4 36.0,431.7 51.8,438.2 58.6,440.0 68.3,442.4 85.2,449.1 105.5,454.5 114.9,455.9 130.7,458.9 146.5,462.8 162.2,466.8 178.0,471.1 193.8,475.7 205.6,479.6 217.5,481.6 233.2,484.5 249.0,488.5 264.8,492.0 280.6,493.4 296.4,493.4 312.1,492.0 327.0,491.2 334.4,488.9 348.3,485.7 366.9,480.6 385.4,475.5 399.3,472.2 413.3,469.0 427.2,465.7 441.1,462.9 455.0,459.5 468.9,456.4 480.5,454.3 496.3,451.1 505.7,449.9 521.4,447.3 537.0,444.7 553.7,443.4 562.1,442.0 593.4,441.5 610.1,440.5 665.4,440.5 667.5,438.9 674.0,438.4 689.1,436.4 704.3,434.1 719.4,431.9 727.6,431.1 737.7,428.6 747.8,427.6 752.8,426.0 762.9,424.5 778.0,422.0 793.2,420.3 808.3,419.3 818.4,418.0 830.5,417.3 848.6,417.0 872.7,415.8 896.8,415.0 905.3,413.7 922.4,411.7 934.5,409.5 951.1,407.0 973.7,403.7 996.3,398.4 1011.4,393.5 1026.4,386.4 1037.0,378.1 1049.0,369.8 1061.1,360.8 1080.5,343.3 1107.7,321.6 1134.9,304.0 1159.1,285.9 1189.4,270.7 1222.7,252.6 1249.9,237.5 1286.2,217.8 1316.4,204.2 1333.1,195.7" fill="none" stroke="#ff00ff" stroke-width="1" shape-rendering="crispEdges"/>
<polyline points="5.5,512.3 15.0,517.5 20.5,519.9 34.5,520.5 47.5,521.4 55.5,523.5 62.2,522.3 69.5,518.7 79.2,515.0 86.5,513.8 92.5,510.8 99.5,507.8 105.5,505.4 117.5,499.6 127.5,496.6 140.5,494.1 157.5,491.8 167.5,490.4 175.5,488.5 190.5,483.5 200.5,481.0 205.5,478.5 213.5,477.5 222.5,474.4 232.5,471.9 245.5,469.9 253.5,468.6 273.5,468.5 277.5,467.6 310.5,467.2 320.5,466.2 334.5,464.1 352.5,463.4 362.5,461.1 376.5,456.4 395.5,452.4 399.3,451.9 403.1,450.7 407.5,449.7 414.4,446.9 423.9,442.8 433.3,438.4 439.6,435.5 444.7,434.6 452.2,431.4 458.5,429.5 464.9,427.0 471.2,424.8 477.5,423.6 481.9,422.6 490.5,421.8 500.5,420.7 506.8,418.6 514.1,417.5 521.4,416.3 562.1,416.3 568.3,417.5 573.5,419.4 579.8,422.2 588.2,425.3 596.5,428.5 604.9,430.6 613.2,432.3 621.5,434.7 629.9,437.9 637.2,440.0 642.4,441.3 650.8,442.0 659.1,443.4 664.3,442.8 669.5,441.5 680.5,441.0 700.5,438.7 717.5,436.4 735.2,434.4 750.8,427.6 762.9,422.5 774.0,416.5 788.1,410.4 798.2,406.4 806.3,403.1 814.4,399.8 822.5,397.1 830.5,395.4 875.7,391.7 896.8,388.6 920.9,384.4 934.5,381.6 947.7,379.2 961.6,378.1 972.2,375.1 986.0,369.6 998.2,364.1 1006.2,358.5 1016.3,350.5 1021.4,346.9 1031.5,337.3 1038.5,327.2 1050.5,310.0 1067.2,280.0 1080.5,258.6 1091.4,238.3 1100.5,226.5 1108.8,215.0 1116.5,203.2 1125.5,188.0 1135.2,172.7 1146.3,156.1 1156.0,144.3 1167.1,132.5 1175.4,128.3 1180.5,127.2 1196.9,119.2 1202.9,118.2 1208.0,118.4 1221.1,122.7 1228.1,121.4 1238.2,122.4 1245.3,123.7 1254.4,126.2 1262.5,132.8 1274.7,139.9 1288.0,149.8 1300.5,157.2 1309.0,161.4 1314.7,162.3 1320.4,163.2 1324.9,164.3 1333.5,164.4" fill="none" stroke="#ffa500" stroke-width="1" shape-rendering="crispEdges"/>
<g shape-rendering="crispEdges">
<rect x="5" y="86" width="1685" height="2" fill="#ff0000"/>
<rect x="5" y="149" width="1685" height="1" fill="#778899"/>
<rect x="5" y="151" width="1685" height="2" fill="#32cd32"/>
<rect x="5" y="204" width="1685" height="1" fill="#ff4500"/>
<rect x="5" y="235" width="1685" height="2" fill="#4169e1"/>
<rect x="5" y="322" width="1685" height="2" fill="#4169e1"/>
<rect x="5" y="376" width="1685" height="2" fill="#4169e1"/>
</g>
<line x1="1093.5" y1="70.5" x2="1690" y2="261.3" stroke="#ffa500" stroke-width="1" shape-rendering="crispEdges"/>
<path d="M1347 31 L1356 31 L1351.5 36 Z" fill="#778899"/>
</g>
<text class="cn" x="0" y="0" transform="translate(1311,296.8) scale(1.02,1.07)">多空转折点</text>
<text class="cn2" x="0" y="0" transform="translate(1491.3,294.9) scale(0.965,1.045)">4625</text>
<path d="M8 37 L15 37 L11.5 41 Z" fill="#000"/>
<text class="tb" x="20" y="42" style="letter-spacing:0.35px">CHINA300-,H4</text>
<text class="tb" x="91" y="42" style="letter-spacing:-0.12px">4652.6 4657.6 4630.0 4634.1</text>
<g shape-rendering="crispEdges">
<rect x="1691" y="42" width="2" height="1" fill="#000"/>
<rect x="1691" y="75" width="2" height="1" fill="#000"/>
<rect x="1691" y="108" width="2" height="1" fill="#000"/>
<rect x="1691" y="141" width="2" height="1" fill="#000"/>
<rect x="1691" y="174" width="2" height="1" fill="#000"/>
<rect x="1691" y="207" width="2" height="1" fill="#000"/>
<rect x="1691" y="240" width="2" height="1" fill="#000"/>
<rect x="1691" y="273" width="2" height="1" fill="#000"/>
<rect x="1691" y="306" width="2" height="1" fill="#000"/>
<rect x="1691" y="339" width="2" height="1" fill="#000"/>
<rect x="1691" y="372" width="2" height="1" fill="#000"/>
<rect x="1691" y="405" width="2" height="1" fill="#000"/>
<rect x="1691" y="438" width="2" height="1" fill="#000"/>
<rect x="1691" y="471" width="2" height="1" fill="#000"/>
<rect x="1691" y="504" width="2" height="1" fill="#000"/>
<rect x="1691" y="537" width="2" height="1" fill="#000"/>
</g>
<text class="t" x="1696" y="46">4921.5</text>
<text class="t" x="1696" y="79">4834.0</text>
<text class="t" x="1696" y="112">4744.0</text>
<text class="t" x="1696" y="145">4656.5</text>
<text class="t" x="1696" y="178">4566.5</text>
<text class="t" x="1696" y="211">4477.5</text>
<text class="t" x="1696" y="244">4389.5</text>
<text class="t" x="1696" y="277">4301.5</text>
<text class="t" x="1696" y="310">4211.5</text>
<text class="t" x="1696" y="343">4124.0</text>
<text class="t" x="1696" y="376">4034.0</text>
<text class="t" x="1696" y="409">3946.5</text>
<text class="t" x="1696" y="442">3856.5</text>
<text class="t" x="1696" y="475">3769.0</text>
<text class="t" x="1696" y="508">3679.0</text>
<text class="t" x="1696" y="541">3591.5</text>
<rect x="1692" y="81" width="33" height="11" fill="#ff0000" shape-rendering="crispEdges"/>
<text class="tw" x="1696" y="90" style="fill:#fff">4800.0</text>
<rect x="1692" y="144" width="33" height="11" fill="#000" shape-rendering="crispEdges"/>
<rect x="1692" y="146" width="33" height="11" fill="#32cd32" shape-rendering="crispEdges"/>
<text class="tw" x="1696" y="155" style="fill:#fff">4625.0</text>
<rect x="1692" y="198" width="33" height="11" fill="#ff4500" shape-rendering="crispEdges"/>
<text class="tw" x="1696" y="207" style="fill:#fff">4485.7</text>
<rect x="1692" y="230" width="33" height="11" fill="#4169e1" shape-rendering="crispEdges"/>
<text class="tw" x="1696" y="239" style="fill:#fff">4400.0</text>
<rect x="1692" y="317" width="33" height="11" fill="#4169e1" shape-rendering="crispEdges"/>
<text class="tw" x="1696" y="326" style="fill:#fff">4165.0</text>
<rect x="1692" y="371" width="33" height="11" fill="#4169e1" shape-rendering="crispEdges"/>
<text class="tw" x="1696" y="380" style="fill:#fff">4020.0</text>
<text class="tb" x="9" y="555" style="letter-spacing:0.15px">MACD(12,26,9) 9.37 1.03</text>
<g clip-path="url(#cd)" shape-rendering="crispEdges">
<rect x="5" y="618" width="1" height="20" fill="#c0c0c0"/>
<rect x="13" y="618" width="1" height="20" fill="#c0c0c0"/>
<rect x="21" y="618" width="1" height="17" fill="#c0c0c0"/>
<rect x="29" y="618" width="1" height="17" fill="#c0c0c0"/>
<rect x="37" y="618" width="1" height="16" fill="#c0c0c0"/>
<rect x="45" y="618" width="1" height="14" fill="#c0c0c0"/>
<rect x="53" y="618" width="1" height="12" fill="#c0c0c0"/>
<rect x="61" y="618" width="1" height="12" fill="#c0c0c0"/>
<rect x="69" y="618" width="1" height="10" fill="#c0c0c0"/>
<rect x="77" y="618" width="1" height="8" fill="#c0c0c0"/>
<rect x="85" y="618" width="1" height="7" fill="#c0c0c0"/>
<rect x="93" y="618" width="1" height="4" fill="#c0c0c0"/>
<rect x="101" y="618" width="1" height="1" fill="#c0c0c0"/>
<rect x="117" y="618" width="1" height="1" fill="#c0c0c0"/>
<rect x="125" y="616" width="1" height="3" fill="#c0c0c0"/>
<rect x="133" y="615" width="1" height="4" fill="#c0c0c0"/>
<rect x="141" y="615" width="1" height="4" fill="#c0c0c0"/>
<rect x="149" y="614" width="1" height="5" fill="#c0c0c0"/>
<rect x="157" y="615" width="1" height="4" fill="#c0c0c0"/>
<rect x="165" y="615" width="1" height="4" fill="#c0c0c0"/>
<rect x="173" y="615" width="1" height="4" fill="#c0c0c0"/>
<rect x="181" y="614" width="1" height="5" fill="#c0c0c0"/>
<rect x="189" y="614" width="1" height="5" fill="#c0c0c0"/>
<rect x="197" y="612" width="1" height="7" fill="#c0c0c0"/>
<rect x="205" y="614" width="1" height="5" fill="#c0c0c0"/>
<rect x="213" y="614" width="1" height="5" fill="#c0c0c0"/>
<rect x="221" y="614" width="1" height="5" fill="#c0c0c0"/>
<rect x="229" y="612" width="1" height="7" fill="#c0c0c0"/>
<rect x="237" y="613" width="1" height="6" fill="#c0c0c0"/>
<rect x="245" y="612" width="1" height="7" fill="#c0c0c0"/>
<rect x="253" y="614" width="1" height="5" fill="#c0c0c0"/>
<rect x="261" y="616" width="1" height="3" fill="#c0c0c0"/>
<rect x="269" y="616" width="1" height="3" fill="#c0c0c0"/>
<rect x="277" y="616" width="1" height="3" fill="#c0c0c0"/>
<rect x="285" y="616" width="1" height="3" fill="#c0c0c0"/>
<rect x="293" y="616" width="1" height="3" fill="#c0c0c0"/>
<rect x="301" y="616" width="1" height="3" fill="#c0c0c0"/>
<rect x="309" y="616" width="1" height="3" fill="#c0c0c0"/>
<rect x="317" y="616" width="1" height="3" fill="#c0c0c0"/>
<rect x="325" y="616" width="1" height="3" fill="#c0c0c0"/>
<rect x="333" y="616" width="1" height="3" fill="#c0c0c0"/>
<rect x="341" y="614" width="1" height="5" fill="#c0c0c0"/>
<rect x="349" y="614" width="1" height="5" fill="#c0c0c0"/>
<rect x="357" y="614" width="1" height="5" fill="#c0c0c0"/>
<rect x="365" y="611" width="1" height="8" fill="#c0c0c0"/>
<rect x="373" y="609" width="1" height="10" fill="#c0c0c0"/>
<rect x="381" y="609" width="1" height="10" fill="#c0c0c0"/>
<rect x="389" y="607" width="1" height="12" fill="#c0c0c0"/>
<rect x="397" y="607" width="1" height="12" fill="#c0c0c0"/>
<rect x="405" y="606" width="1" height="13" fill="#c0c0c0"/>
<rect x="413" y="605" width="1" height="14" fill="#c0c0c0"/>
<rect x="421" y="604" width="1" height="15" fill="#c0c0c0"/>
<rect x="429" y="604" width="1" height="15" fill="#c0c0c0"/>
<rect x="437" y="605" width="1" height="14" fill="#c0c0c0"/>
<rect x="445" y="604" width="1" height="15" fill="#c0c0c0"/>
<rect x="453" y="604" width="1" height="15" fill="#c0c0c0"/>
<rect x="461" y="605" width="1" height="14" fill="#c0c0c0"/>
<rect x="469" y="605" width="1" height="14" fill="#c0c0c0"/>
<rect x="477" y="607" width="1" height="12" fill="#c0c0c0"/>
<rect x="485" y="609" width="1" height="10" fill="#c0c0c0"/>
<rect x="493" y="611" width="1" height="8" fill="#c0c0c0"/>
<rect x="501" y="614" width="1" height="5" fill="#c0c0c0"/>
<rect x="509" y="613" width="1" height="6" fill="#c0c0c0"/>
<rect x="517" y="614" width="1" height="5" fill="#c0c0c0"/>
<rect x="525" y="614" width="1" height="5" fill="#c0c0c0"/>
<rect x="533" y="614" width="1" height="5" fill="#c0c0c0"/>
<rect x="541" y="615" width="1" height="4" fill="#c0c0c0"/>
<rect x="549" y="615" width="1" height="4" fill="#c0c0c0"/>
<rect x="557" y="616" width="1" height="3" fill="#c0c0c0"/>
<rect x="565" y="618" width="1" height="1" fill="#c0c0c0"/>
<rect x="573" y="618" width="1" height="1" fill="#c0c0c0"/>
<rect x="581" y="618" width="1" height="3" fill="#c0c0c0"/>
<rect x="589" y="618" width="1" height="5" fill="#c0c0c0"/>
<rect x="597" y="618" width="1" height="6" fill="#c0c0c0"/>
<rect x="605" y="618" width="1" height="6" fill="#c0c0c0"/>
<rect x="613" y="618" width="1" height="6" fill="#c0c0c0"/>
<rect x="621" y="618" width="1" height="7" fill="#c0c0c0"/>
<rect x="629" y="618" width="1" height="7" fill="#c0c0c0"/>
<rect x="637" y="618" width="1" height="8" fill="#c0c0c0"/>
<rect x="645" y="618" width="1" height="8" fill="#c0c0c0"/>
<rect x="653" y="618" width="1" height="8" fill="#c0c0c0"/>
<rect x="661" y="618" width="1" height="8" fill="#c0c0c0"/>
<rect x="669" y="618" width="1" height="3" fill="#c0c0c0"/>
<rect x="677" y="618" width="1" height="1" fill="#c0c0c0"/>
<rect x="685" y="617" width="1" height="2" fill="#c0c0c0"/>
<rect x="693" y="615" width="1" height="4" fill="#c0c0c0"/>
<rect x="701" y="612" width="1" height="7" fill="#c0c0c0"/>
<rect x="709" y="611" width="1" height="8" fill="#c0c0c0"/>
<rect x="717" y="611" width="1" height="8" fill="#c0c0c0"/>
<rect x="725" y="610" width="1" height="9" fill="#c0c0c0"/>
<rect x="733" y="610" width="1" height="9" fill="#c0c0c0"/>
<rect x="741" y="609" width="1" height="10" fill="#c0c0c0"/>
<rect x="749" y="608" width="1" height="11" fill="#c0c0c0"/>
<rect x="757" y="608" width="1" height="11" fill="#c0c0c0"/>
<rect x="765" y="607" width="1" height="12" fill="#c0c0c0"/>
<rect x="773" y="606" width="1" height="13" fill="#c0c0c0"/>
<rect x="781" y="606" width="1" height="13" fill="#c0c0c0"/>
<rect x="789" y="606" width="1" height="13" fill="#c0c0c0"/>
<rect x="797" y="606" width="1" height="13" fill="#c0c0c0"/>
<rect x="805" y="608" width="1" height="11" fill="#c0c0c0"/>
<rect x="813" y="609" width="1" height="10" fill="#c0c0c0"/>
<rect x="821" y="610" width="1" height="9" fill="#c0c0c0"/>
<rect x="829" y="610" width="1" height="9" fill="#c0c0c0"/>
<rect x="837" y="612" width="1" height="7" fill="#c0c0c0"/>
<rect x="845" y="613" width="1" height="6" fill="#c0c0c0"/>
<rect x="853" y="612" width="1" height="7" fill="#c0c0c0"/>
<rect x="861" y="612" width="1" height="7" fill="#c0c0c0"/>
<rect x="869" y="612" width="1" height="7" fill="#c0c0c0"/>
<rect x="877" y="613" width="1" height="6" fill="#c0c0c0"/>
<rect x="885" y="612" width="1" height="7" fill="#c0c0c0"/>
<rect x="893" y="612" width="1" height="7" fill="#c0c0c0"/>
<rect x="901" y="612" width="1" height="7" fill="#c0c0c0"/>
<rect x="909" y="610" width="1" height="9" fill="#c0c0c0"/>
<rect x="917" y="610" width="1" height="9" fill="#c0c0c0"/>
<rect x="925" y="610" width="1" height="9" fill="#c0c0c0"/>
<rect x="933" y="608" width="1" height="11" fill="#c0c0c0"/>
<rect x="941" y="608" width="1" height="11" fill="#c0c0c0"/>
<rect x="949" y="607" width="1" height="12" fill="#c0c0c0"/>
<rect x="957" y="607" width="1" height="12" fill="#c0c0c0"/>
<rect x="965" y="608" width="1" height="11" fill="#c0c0c0"/>
<rect x="973" y="607" width="1" height="12" fill="#c0c0c0"/>
<rect x="981" y="606" width="1" height="13" fill="#c0c0c0"/>
<rect x="989" y="604" width="1" height="15" fill="#c0c0c0"/>
<rect x="997" y="602" width="1" height="17" fill="#c0c0c0"/>
<rect x="1005" y="599" width="1" height="20" fill="#c0c0c0"/>
<rect x="1013" y="595" width="1" height="24" fill="#c0c0c0"/>
<rect x="1021" y="592" width="1" height="27" fill="#c0c0c0"/>
<rect x="1029" y="588" width="1" height="31" fill="#c0c0c0"/>
<rect x="1037" y="580" width="1" height="39" fill="#c0c0c0"/>
<rect x="1045" y="570" width="1" height="49" fill="#c0c0c0"/>
<rect x="1053" y="563" width="1" height="56" fill="#c0c0c0"/>
<rect x="1061" y="559" width="1" height="60" fill="#c0c0c0"/>
<rect x="1069" y="557" width="1" height="62" fill="#c0c0c0"/>
<rect x="1077" y="554" width="1" height="65" fill="#c0c0c0"/>
<rect x="1085" y="551" width="1" height="68" fill="#c0c0c0"/>
<rect x="1093" y="550" width="1" height="69" fill="#c0c0c0"/>
<rect x="1101" y="550" width="1" height="69" fill="#c0c0c0"/>
<rect x="1109" y="553" width="1" height="66" fill="#c0c0c0"/>
<rect x="1117" y="554" width="1" height="65" fill="#c0c0c0"/>
<rect x="1125" y="554" width="1" height="65" fill="#c0c0c0"/>
<rect x="1133" y="557" width="1" height="62" fill="#c0c0c0"/>
<rect x="1141" y="560" width="1" height="59" fill="#c0c0c0"/>
<rect x="1149" y="564" width="1" height="55" fill="#c0c0c0"/>
<rect x="1157" y="568" width="1" height="51" fill="#c0c0c0"/>
<rect x="1165" y="574" width="1" height="45" fill="#c0c0c0"/>
<rect x="1173" y="583" width="1" height="36" fill="#c0c0c0"/>
<rect x="1181" y="591" width="1" height="28" fill="#c0c0c0"/>
<rect x="1189" y="597" width="1" height="22" fill="#c0c0c0"/>
<rect x="1197" y="599" width="1" height="20" fill="#c0c0c0"/>
<rect x="1205" y="600" width="1" height="19" fill="#c0c0c0"/>
<rect x="1213" y="601" width="1" height="18" fill="#c0c0c0"/>
<rect x="1221" y="602" width="1" height="17" fill="#c0c0c0"/>
<rect x="1229" y="601" width="1" height="18" fill="#c0c0c0"/>
<rect x="1237" y="602" width="1" height="17" fill="#c0c0c0"/>
<rect x="1245" y="603" width="1" height="16" fill="#c0c0c0"/>
<rect x="1253" y="604" width="1" height="15" fill="#c0c0c0"/>
<rect x="1261" y="608" width="1" height="11" fill="#c0c0c0"/>
<rect x="1269" y="614" width="1" height="5" fill="#c0c0c0"/>
<rect x="1277" y="618" width="1" height="1" fill="#c0c0c0"/>
<rect x="1285" y="618" width="1" height="2" fill="#c0c0c0"/>
<rect x="1293" y="618" width="1" height="3" fill="#c0c0c0"/>
<rect x="1301" y="618" width="1" height="4" fill="#c0c0c0"/>
<rect x="1309" y="618" width="1" height="2" fill="#c0c0c0"/>
<rect x="1325" y="618" width="1" height="1" fill="#c0c0c0"/>
<rect x="1333" y="616" width="1" height="3" fill="#c0c0c0"/>
</g>
<polyline clip-path="url(#cd)" points="5.7,650.3 13.0,648.4 19.3,646.6 24.5,644.3 30.8,642.0 37.0,640.4 42.2,639.0 48.5,637.5 54.8,636.4 61.0,635.4 67.3,633.8 72.5,633.0 78.8,632.3 85.0,631.5 91.3,630.2 96.5,628.4 102.8,627.4 109.0,626.3 115.3,625.0 120.5,623.4 126.8,622.1 133.0,620.5 139.3,619.5 144.5,619.0 150.8,618.0 157.0,616.6 163.3,615.5 170.5,615.3 190.8,613.5 229.3,612.5 265.8,612.5 271.9,613.5 296.3,613.5 302.3,614.5 316.5,615.5 334.8,615.5 340.9,614.5 359.1,614.5 365.2,613.5 381.5,612.5 385.5,611.4 407.8,609.4 413.9,608.4 430.1,606.4 434.2,605.4 450.5,604.3 486.9,604.3 497.1,606.0 505.2,606.4 515.5,608.4 523.5,609.4 545.9,611.4 556.1,613.5 580.5,614.9 596.5,617.5 616.9,621.6 641.3,624.2 653.5,625.6 671.7,625.6 677.8,624.2 698.1,621.6 706.2,618.5 724.4,616.1 732.5,613.5 748.8,611.4 767.0,609.4 775.1,608.0 791.4,607.4 795.5,606.4 831.9,606.4 838.0,607.4 860.5,609.4 880.8,610.6 884.8,611.4 921.4,611.4 941.6,610.2 961.9,608.6 982.2,606.9 992.3,605.9 1008.5,604.5 1018.7,600.9 1028.9,598.8 1039.0,595.2 1049.1,590.7 1057.3,585.6 1063.3,581.6 1073.5,575.5 1081.6,569.4 1087.7,565.4 1097.8,561.3 1108.0,556.2 1116.1,553.8 1128.2,553.2 1132.3,552.6 1142.5,553.8 1150.6,555.2 1162.7,557.2 1170.8,560.3 1176.7,563.7 1182.8,567.3 1188.8,571.0 1194.9,574.6 1201.0,578.3 1206.5,581.7 1212.6,585.0 1218.7,588.6 1224.8,591.4 1230.9,593.8 1236.9,596.3 1241.7,597.4 1242.9,598.3 1249.0,599.4 1255.1,600.5 1260.9,601.4 1267.0,602.4 1272.1,603.5 1273.4,604.4 1278.8,605.5 1284.3,606.6 1285.5,607.5 1291.0,608.5 1297.1,610.5 1302.9,612.5 1308.1,613.6 1309.3,614.5 1315.1,615.6 1320.8,616.4 1326.9,617.5 1333.0,618.5" fill="none" stroke="#ff0000" stroke-width="1" stroke-dasharray="3,3" shape-rendering="crispEdges"/>
<rect x="1691" y="544" width="1" height="1" fill="#000"/><rect x="1691" y="618" width="2" height="1" fill="#000"/>
<text class="t" x="1694" y="553">219.44</text>
<text class="t" x="1694" y="622">0.00</text>
<text class="t" x="1694" y="653">-109.44</text>
<text class="tb" x="9" y="671">RSI(14) 53.6861</text>
<g shape-rendering="crispEdges">
<line x1="5" y1="693.5" x2="1690" y2="693.5" stroke="#c0c0c0" stroke-dasharray="3,3"/>
<line x1="5" y1="737.5" x2="1690" y2="737.5" stroke="#c0c0c0" stroke-dasharray="3,3"/>
<rect x="1691" y="693" width="2" height="1" fill="#000"/><rect x="1691" y="737" width="2" height="1" fill="#000"/>
</g>
<polyline clip-path="url(#cr)" points="5.5,719.3 13.5,722.8 21.5,720.4 29.5,719.3 37.5,720.3 45.5,717.4 53.5,720.4 61.5,718.5 69.5,713.3 77.5,715.1 85.5,716.2 93.5,709.6 101.5,709.4 109.5,710.4 117.5,710.4 125.5,709.4 133.5,708.3 141.5,709.1 149.5,711.1 157.5,712.4 165.5,714.3 173.5,709.9 181.5,705.2 189.5,705.9 197.5,709.1 205.5,715.1 213.5,711.5 221.5,705.5 229.5,710.4 237.5,709.6 245.5,708.3 253.5,719.1 261.5,715.7 269.5,716.5 277.5,710.8 285.5,713.4 293.5,712.3 301.5,714.3 309.5,714.4 317.5,707.3 325.5,711.3 333.5,706.4 341.5,709.6 349.5,706.6 357.5,706.4 365.5,697.4 373.5,697.4 381.5,700.5 389.5,697.4 397.5,698.3 405.5,699.5 413.5,693.4 421.5,695.3 429.5,693.4 437.5,697.7 445.5,701.4 453.5,699.5 461.5,701.4 469.5,698.3 477.5,714.3 485.5,715.7 493.5,714.4 501.5,720.3 509.5,712.2 517.5,716.2 525.5,711.8 533.5,710.4 541.5,713.0 549.5,713.0 557.5,713.0 565.5,719.1 573.5,728.7 581.5,733.0 589.5,733.0 597.5,731.3 605.5,724.3 613.5,722.3 621.5,724.3 629.5,725.6 637.5,729.2 645.5,722.3 653.5,721.4 661.5,720.3 669.5,699.5 677.5,699.5 685.5,698.3 693.5,697.4 701.5,694.3 709.5,700.0 717.5,700.3 725.5,701.7 733.5,703.5 741.5,697.4 749.5,695.3 757.5,695.3 765.5,691.3 773.5,693.6 781.5,696.5 789.5,695.3 797.5,695.3 805.5,710.4 813.5,710.4 821.5,705.8 829.5,708.3 837.5,720.5 845.5,709.6 853.5,706.6 861.5,708.3 869.5,705.6 877.5,712.2 885.5,709.6 893.5,704.3 901.5,700.3 909.5,696.5 917.5,702.1 925.5,699.7 933.5,698.6 941.5,697.4 949.5,693.6 957.5,706.6 965.5,703.5 973.5,697.9 981.5,698.6 989.5,691.7 997.5,688.7 1005.5,684.3 1013.5,680.9 1021.5,679.1 1029.5,677.4 1037.5,671.3 1045.5,669.0 1053.5,668.3 1061.5,677.4 1069.5,676.5 1077.5,675.3 1085.5,674.3 1093.5,673.0 1101.5,681.7 1109.5,687.3 1117.5,684.5 1125.5,683.4 1133.5,691.3 1141.5,691.3 1149.5,695.9 1157.5,698.7 1165.5,708.7 1173.5,722.3 1181.5,722.3 1189.5,719.5 1197.5,710.4 1205.5,709.4 1213.5,708.4 1221.5,708.4 1229.5,702.4 1237.5,708.4 1245.5,711.5 1253.5,708.4 1261.5,720.9 1269.5,724.3 1277.5,723.3 1285.5,723.3 1293.5,720.5 1301.5,720.5 1309.5,711.8 1317.5,707.3 1325.5,709.4 1333.5,711.5" fill="none" stroke="#1e90ff" stroke-width="1" shape-rendering="crispEdges"/>
<text class="t" x="1694" y="669">100</text>
<text class="t" x="1694" y="697">70</text>
<text class="t" x="1694" y="741">30</text>
<text class="t" x="1694" y="768">0</text>
<g shape-rendering="crispEdges">
<rect x="5" y="772" width="1" height="3" fill="#000"/>
<rect x="69" y="772" width="1" height="3" fill="#000"/>
<rect x="133" y="772" width="1" height="3" fill="#000"/>
<rect x="197" y="772" width="1" height="3" fill="#000"/>
<rect x="261" y="772" width="1" height="3" fill="#000"/>
<rect x="325" y="772" width="1" height="3" fill="#000"/>
<rect x="389" y="772" width="1" height="3" fill="#000"/>
<rect x="453" y="772" width="1" height="3" fill="#000"/>
<rect x="517" y="772" width="1" height="3" fill="#000"/>
<rect x="581" y="772" width="1" height="3" fill="#000"/>
<rect x="645" y="772" width="1" height="3" fill="#000"/>
<rect x="709" y="772" width="1" height="3" fill="#000"/>
<rect x="773" y="772" width="1" height="3" fill="#000"/>
<rect x="837" y="772" width="1" height="3" fill="#000"/>
<rect x="901" y="772" width="1" height="3" fill="#000"/>
<rect x="965" y="772" width="1" height="3" fill="#000"/>
<rect x="1029" y="772" width="1" height="3" fill="#000"/>
<rect x="1093" y="772" width="1" height="3" fill="#000"/>
<rect x="1157" y="772" width="1" height="3" fill="#000"/>
<rect x="1221" y="772" width="1" height="3" fill="#000"/>
<rect x="1285" y="772" width="1" height="3" fill="#000"/>
</g>
<text class="tt" x="4" y="784">27 Mar 2020</text>
<text class="tt" x="68" y="784">2 Apr 05:00</text>
<text class="tt" x="132" y="784">9 Apr 05:00</text>
<text class="tt" x="196" y="784">15 Apr 05:00</text>
<text class="tt" x="260" y="784">21 Apr 05:00</text>
<text class="tt" x="324" y="784">27 Apr 05:00</text>
<text class="tt" x="388" y="784">6 May 05:00</text>
<text class="tt" x="452" y="784">12 May 05:00</text>
<text class="tt" x="516" y="784">18 May 05:00</text>
<text class="tt" x="580" y="784">22 May 05:00</text>
<text class="tt" x="644" y="784">28 May 05:00</text>
<text class="tt" x="708" y="784">3 Jun 05:00</text>
<text class="tt" x="772" y="784">9 Jun 05:00</text>
<text class="tt" x="836" y="784">15 Jun 05:00</text>
<text class="tt" x="900" y="784">19 Jun 05:00</text>
<text class="tt" x="964" y="784">29 Jun 05:00</text>
<text class="tt" x="1028" y="784">3 Jul 05:00</text>
<text class="tt" x="1092" y="784">9 Jul 05:00</text>
<text class="tt" x="1156" y="784">15 Jul 05:00</text>
<text class="tt" x="1220" y="784">21 Jul 05:00</text>
<text class="tt" x="1284" y="784">27 Jul 05:00</text>
</svg></body></html>
